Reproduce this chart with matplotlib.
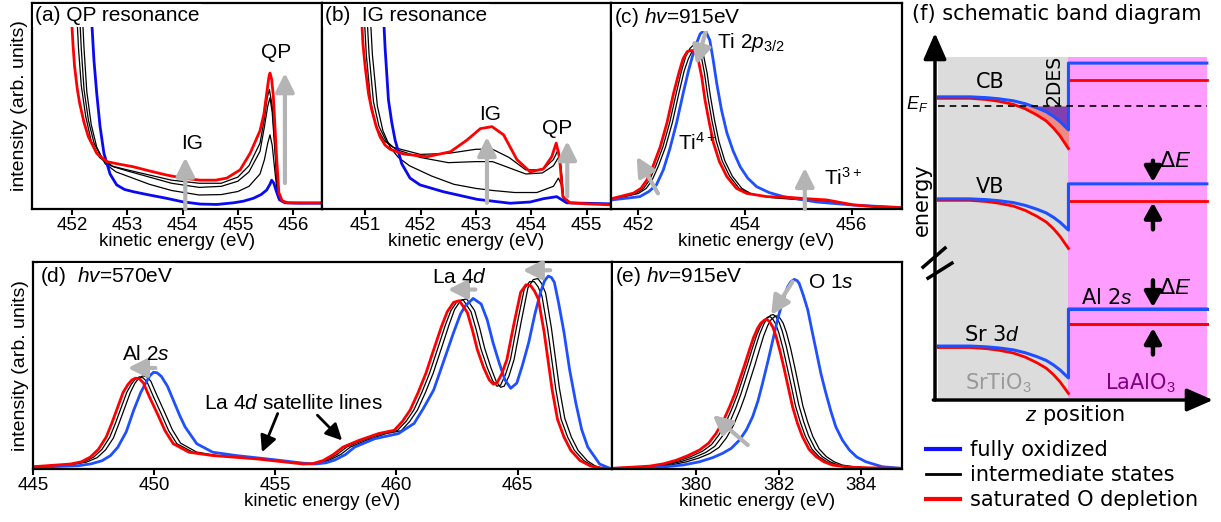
import matplotlib
matplotlib.use("Agg")
import matplotlib.pyplot as plt
from matplotlib.lines import Line2D
from matplotlib.patches import Rectangle

plt.rcParams['font.family'] = ['Liberation Sans', 'DejaVu Sans']
plt.rcParams['mathtext.fontset'] = 'custom'
plt.rcParams['mathtext.rm'] = 'Liberation Sans'
plt.rcParams['mathtext.it'] = 'Liberation Sans:italic'
plt.rcParams['mathtext.bf'] = 'Liberation Sans:bold'

BLUE_AB = '#0a0af0'
BLUE = '#1e50ff'
RED = '#ff0000'
GRAY = '#b4b4b4'

# ---------------- (a) QP resonance ----------------
a_blue_x = [452.30, 452.34, 452.40, 452.45, 452.51, 452.58, 452.69, 452.81, 452.95, 453.11, 453.40, 453.71,
            454.00, 454.32, 454.62, 454.92, 455.10, 455.28, 455.42, 455.52, 455.58, 455.61, 455.65, 455.69,
            455.75, 455.85, 456.10, 456.52]
a_blue_y = [1.05, 1.00, 0.72, 0.56, 0.40, 0.27, 0.17, 0.117, 0.095, 0.084, 0.068, 0.052,
            0.035, 0.024, 0.022, 0.030, 0.038, 0.052, 0.070, 0.092, 0.120, 0.140, 0.125, 0.090,
            0.045, 0.030, 0.028, 0.028]
a_red_x = [451.96, 451.98, 452.02, 452.05, 452.10, 452.14, 452.22, 452.30, 452.45, 452.63, 452.81, 453.11,
           453.40, 453.71, 454.00, 454.32, 454.60, 454.80, 455.04, 455.22, 455.40, 455.47, 455.52, 455.56,
           455.58, 455.61, 455.64, 455.67, 455.70, 455.74, 455.80, 455.90, 456.52]
a_red_y = [1.05, 1.00, 0.80, 0.69, 0.58, 0.515, 0.42, 0.35, 0.27, 0.23, 0.22, 0.205,
           0.185, 0.165, 0.15, 0.14, 0.14, 0.15, 0.19, 0.27, 0.38, 0.46, 0.56, 0.64,
           0.66, 0.63, 0.55, 0.40, 0.25, 0.08, 0.04, 0.03, 0.03]
a_k1_x = [452.06, 452.08, 452.12, 452.17, 452.25, 452.35, 452.50, 452.70, 453.0, 453.4, 453.8, 454.3, 454.7,
          455.0, 455.2, 455.4, 455.48, 455.53, 455.57, 455.62, 455.67, 455.72, 455.8, 455.9]
a_k1_y = [1.05, 1.00, 0.78, 0.60, 0.45, 0.33, 0.25, 0.21, 0.19, 0.165, 0.14, 0.125, 0.125,
          0.155, 0.21, 0.32, 0.44, 0.54, 0.58, 0.50, 0.30, 0.08, 0.04, 0.03]
a_k2_x = [452.11, 452.13, 452.17, 452.22, 452.30, 452.40, 452.55, 452.75, 453.0, 453.4, 453.8, 454.3, 454.7,
          455.0, 455.2, 455.4, 455.48, 455.54, 455.58, 455.62, 455.67, 455.72, 455.8, 455.9]
a_k2_y = [1.05, 1.00, 0.78, 0.58, 0.43, 0.32, 0.245, 0.205, 0.185, 0.155, 0.125, 0.105, 0.11,
          0.135, 0.18, 0.28, 0.40, 0.50, 0.54, 0.47, 0.28, 0.07, 0.035, 0.03]
a_k3_x = [452.16, 452.18, 452.22, 452.27, 452.35, 452.45, 452.60, 452.80, 453.0, 453.4, 453.8, 454.3, 454.7,
          455.0, 455.2, 455.4, 455.48, 455.54, 455.58, 455.62, 455.67, 455.72, 455.8, 455.9]
a_k3_y = [1.05, 1.00, 0.78, 0.57, 0.41, 0.30, 0.22, 0.18, 0.16, 0.12, 0.09, 0.068, 0.07,
          0.085, 0.11, 0.17, 0.24, 0.32, 0.36, 0.31, 0.18, 0.06, 0.035, 0.03]
a_ticks = [452, 453, 454, 455, 456]

# ---------------- (b) IG resonance ----------------
b_red_x = [450.90, 450.92, 450.96, 451.00, 451.06, 451.12, 451.20, 451.27, 451.36, 451.45, 451.69, 452.12,
           452.54, 452.84, 453.08, 453.29, 453.50, 453.74, 453.98, 454.22, 454.37, 454.45, 454.51, 454.57,
           454.70, 455.00, 455.44]
b_red_y = [1.05, 1.00, 0.80, 0.69, 0.56, 0.48, 0.40, 0.35, 0.31, 0.29, 0.267, 0.254,
           0.278, 0.335, 0.39, 0.40, 0.36, 0.24, 0.18, 0.195, 0.254, 0.32, 0.25, 0.06,
           0.03, 0.025, 0.02]
b_blue_x = [451.30, 451.32, 451.36, 451.42, 451.48, 451.54, 451.66, 451.81, 451.99, 452.41, 453.02, 453.62,
            453.98, 454.22, 454.46, 454.55, 454.64, 455.44]
b_blue_y = [1.05, 1.00, 0.78, 0.53, 0.42, 0.335, 0.22, 0.15, 0.117, 0.084, 0.047, 0.028,
            0.034, 0.05, 0.06, 0.045, 0.03, 0.025]
b_k1_x = [450.95, 450.97, 451.02, 451.10, 451.20, 451.35, 451.50, 452.0, 452.5, 453.0, 453.3, 453.6, 453.9,
          454.2, 454.4, 454.49, 454.54, 454.58, 454.7]
b_k1_y = [1.05, 1.00, 0.75, 0.52, 0.40, 0.33, 0.30, 0.265, 0.27, 0.29, 0.29, 0.25, 0.19,
          0.19, 0.24, 0.29, 0.20, 0.06, 0.03]
b_k2_x = [451.00, 451.02, 451.07, 451.15, 451.25, 451.38, 451.55, 452.0, 452.5, 453.0, 453.3, 453.6, 453.9,
          454.2, 454.4, 454.49, 454.54, 454.58, 454.7]
b_k2_y = [1.05, 1.00, 0.75, 0.52, 0.40, 0.33, 0.29, 0.25, 0.225, 0.23, 0.23, 0.20, 0.17,
          0.175, 0.21, 0.25, 0.18, 0.06, 0.03]
b_k3_x = [451.06, 451.08, 451.13, 451.22, 451.32, 451.45, 451.60, 451.80, 452.2, 452.6, 453.0, 453.3, 453.7,
          454.1, 454.4, 454.49, 454.54, 454.58, 454.7]
b_k3_y = [1.05, 1.00, 0.75, 0.50, 0.38, 0.30, 0.25, 0.21, 0.16, 0.12, 0.10, 0.09, 0.08,
          0.08, 0.11, 0.15, 0.12, 0.05, 0.03]
b_ticks = [451, 452, 453, 454, 455]

# ---------------- (c) Ti 2p ----------------
c_blue_x = [451.5, 452.03, 452.20, 452.34, 452.47, 452.59, 452.72, 452.84, 452.94, 453.03, 453.10, 453.16,
            453.25, 453.34, 453.40, 453.47, 453.56, 453.66, 453.78, 453.91, 454.05, 454.22, 454.45, 454.72,
            455.34, 456.03, 457.0]
c_blue_y = [0.044, 0.06, 0.085, 0.117, 0.19, 0.29, 0.42, 0.56, 0.67, 0.755, 0.81, 0.85,
            0.87, 0.82, 0.73, 0.61, 0.48, 0.37, 0.28, 0.205, 0.15, 0.108, 0.08, 0.06,
            0.034, 0.019, 0.006]
c_red_x = [451.5, 451.91, 452.05, 452.16, 452.28, 452.41, 452.54, 452.66, 452.76, 452.84, 452.92, 453.0,
           453.06, 453.12, 453.19, 453.25, 453.33, 453.41, 453.52, 453.66, 453.84, 454.03, 454.41, 454.78,
           455.16, 455.53, 456.03, 456.5, 457.0]
c_red_y = [0.05, 0.077, 0.10, 0.14, 0.21, 0.30, 0.42, 0.56, 0.66, 0.73, 0.765, 0.77,
           0.76, 0.73, 0.64, 0.53, 0.42, 0.32, 0.23, 0.157, 0.10, 0.076, 0.06, 0.057,
           0.05, 0.044, 0.02, 0.01, 0.006]
c_k1_x = [451.5, 451.95, 452.10, 452.21, 452.33, 452.46, 452.59, 452.71, 452.81, 452.89, 452.97, 453.05,
          453.11, 453.17, 453.24, 453.30, 453.38, 453.46, 453.57, 453.71, 453.89, 454.08, 454.45, 454.8,
          455.2, 455.55, 456.03, 457.0]
c_k1_y = [0.047, 0.075, 0.10, 0.14, 0.21, 0.30, 0.42, 0.56, 0.67, 0.74, 0.78, 0.80,
          0.79, 0.755, 0.66, 0.55, 0.43, 0.33, 0.235, 0.16, 0.10, 0.075, 0.058, 0.052,
          0.045, 0.04, 0.02, 0.006]
c_k2_x = [451.5, 452.0, 452.15, 452.26, 452.38, 452.51, 452.64, 452.76, 452.86, 452.94, 453.02, 453.10,
          453.16, 453.22, 453.29, 453.35, 453.43, 453.51, 453.62, 453.76, 453.94, 454.13, 454.5, 454.85,
          455.2, 455.55, 456.03, 457.0]
c_k2_y = [0.046, 0.075, 0.10, 0.14, 0.21, 0.30, 0.42, 0.56, 0.67, 0.73, 0.77, 0.79,
          0.78, 0.75, 0.66, 0.55, 0.43, 0.33, 0.235, 0.16, 0.10, 0.072, 0.055, 0.048,
          0.042, 0.038, 0.02, 0.006]
c_ticks = [452, 454, 456]

# ---------------- (d) Al 2s / La 4d ----------------
d_blue_x = [445.0, 446.87, 447.4, 447.85, 448.2, 448.5, 448.85, 449.16, 449.45, 449.65, 449.82, 449.97,
            450.12, 450.3, 450.55, 450.79, 451.05, 451.28, 451.76, 452.42, 453.39, 455.02, 456.17, 456.65,
            457.1, 457.47, 457.9, 458.28, 459.1, 460.08, 460.73, 461.1, 461.54, 461.95, 462.36, 462.65,
            462.85, 463.17, 463.5, 463.75, 463.99, 464.25, 464.48, 464.72, 464.97, 465.2, 465.46, 465.72,
            465.95, 466.12, 466.27, 466.4, 466.52, 466.7, 466.92, 467.15, 467.41, 467.65, 467.9, 468.39,
            468.88]
d_blue_y = [0.008, 0.016, 0.025, 0.04, 0.065, 0.105, 0.18, 0.285, 0.37, 0.415, 0.45, 0.467,
            0.465, 0.447, 0.40, 0.333, 0.26, 0.203, 0.122, 0.081, 0.065, 0.044, 0.028, 0.024,
            0.03, 0.044, 0.07, 0.106, 0.146, 0.171, 0.22, 0.29, 0.382, 0.52, 0.659, 0.75,
            0.789, 0.824, 0.797, 0.72, 0.61, 0.51, 0.431, 0.39, 0.415, 0.50, 0.61, 0.75,
            0.854, 0.91, 0.932, 0.925, 0.902, 0.80, 0.659, 0.48, 0.317, 0.19, 0.106, 0.024,
            0.0]
d_red_x = [445.0, 446.55, 447.0, 447.36, 447.7, 448.02, 448.25, 448.5, 448.72, 448.91, 449.08, 449.24,
           449.4, 449.56, 449.8, 450.13, 450.45, 450.79, 451.44, 452.42, 454.21, 456.17, 456.55, 456.98,
           457.4, 457.8, 458.45, 459.26, 459.91, 460.25, 460.57, 460.9, 461.22, 461.55, 461.87, 462.1,
           462.36, 462.6, 462.93, 463.14, 463.34, 463.6, 463.83, 464.0, 464.15, 464.35, 464.56, 464.85,
           465.13, 465.35, 465.54, 465.7, 465.86, 466.1, 466.43, 466.65, 466.92, 467.2, 467.58, 468.0,
           468.39, 468.88]
d_red_y = [0.011, 0.024, 0.035, 0.057, 0.095, 0.154, 0.22, 0.30, 0.37, 0.407, 0.43, 0.439,
           0.435, 0.415, 0.35, 0.268, 0.185, 0.122, 0.081, 0.065, 0.049, 0.024, 0.026, 0.041,
           0.07, 0.106, 0.138, 0.171, 0.187, 0.23, 0.285, 0.37, 0.463, 0.58, 0.691, 0.76,
           0.805, 0.813, 0.756, 0.67, 0.577, 0.49, 0.431, 0.41, 0.415, 0.46, 0.528, 0.70,
           0.854, 0.89, 0.886, 0.86, 0.821, 0.66, 0.382, 0.24, 0.154, 0.09, 0.041, 0.015,
           0.005, 0.0]
d_k1_x = [445.0, 446.6, 447.1, 447.5, 447.85, 448.17, 448.4, 448.65, 448.87, 449.06, 449.23, 449.39,
          449.55, 449.71, 449.95, 450.28, 450.6, 450.94, 451.6, 452.5, 454.3, 456.2, 456.65, 457.1,
          457.55, 457.95, 458.6, 459.4, 460.05, 460.4, 460.72, 461.05, 461.37, 461.7, 462.02, 462.25,
          462.51, 462.75, 463.08, 463.29, 463.49, 463.75, 463.98, 464.15, 464.3, 464.5, 464.71, 465.0,
          465.28, 465.5, 465.69, 465.85, 466.01, 466.25, 466.58, 466.8, 467.07, 467.35, 467.73, 468.1,
          468.45, 468.88]
d_k1_y = [0.011, 0.024, 0.035, 0.057, 0.095, 0.154, 0.22, 0.30, 0.37, 0.41, 0.435, 0.445,
          0.44, 0.42, 0.355, 0.27, 0.185, 0.122, 0.081, 0.065, 0.049, 0.024, 0.026, 0.041,
          0.07, 0.106, 0.138, 0.171, 0.187, 0.23, 0.285, 0.37, 0.463, 0.58, 0.695, 0.765,
          0.81, 0.818, 0.76, 0.675, 0.58, 0.49, 0.425, 0.40, 0.405, 0.455, 0.53, 0.71,
          0.87, 0.905, 0.905, 0.88, 0.835, 0.67, 0.385, 0.24, 0.154, 0.09, 0.041, 0.015,
          0.005, 0.0]
d_k2_x = [445.0, 446.65, 447.2, 447.65, 448.0, 448.32, 448.55, 448.8, 449.02, 449.21, 449.38, 449.54,
          449.7, 449.86, 450.1, 450.43, 450.75, 451.09, 451.75, 452.6, 454.4, 456.2, 456.7, 457.2,
          457.7, 458.1, 458.75, 459.55, 460.2, 460.55, 460.87, 461.2, 461.52, 461.85, 462.17, 462.4,
          462.66, 462.9, 463.23, 463.44, 463.64, 463.9, 464.13, 464.3, 464.45, 464.65, 464.86, 465.15,
          465.43, 465.65, 465.84, 466.0, 466.16, 466.4, 466.73, 466.95, 467.22, 467.5, 467.88, 468.2,
          468.5, 468.88]
d_k2_y = [0.01, 0.022, 0.033, 0.055, 0.093, 0.15, 0.22, 0.30, 0.37, 0.415, 0.44, 0.45,
          0.445, 0.425, 0.36, 0.275, 0.19, 0.125, 0.082, 0.065, 0.048, 0.024, 0.026, 0.041,
          0.07, 0.106, 0.138, 0.17, 0.185, 0.23, 0.285, 0.37, 0.463, 0.58, 0.695, 0.77,
          0.815, 0.822, 0.765, 0.68, 0.585, 0.49, 0.42, 0.395, 0.40, 0.45, 0.53, 0.71,
          0.875, 0.915, 0.92, 0.895, 0.85, 0.68, 0.39, 0.245, 0.155, 0.09, 0.04, 0.015,
          0.005, 0.0]
d_ticks = [445, 450, 455, 460, 465]

# ---------------- (e) O 1s ----------------
e_blue_x = [377.95, 379.27, 379.7, 380.08, 380.4, 380.64, 380.85, 381.05, 381.22, 381.37, 381.5, 381.61,
            381.74, 381.86, 381.96, 382.06, 382.14, 382.22, 382.30, 382.38, 382.45, 382.5, 382.6, 382.71,
            382.81, 382.91, 383.03, 383.15, 383.27, 383.39, 383.55, 383.72, 383.9, 384.12, 384.52, 385.0]
e_blue_y = [0.003, 0.011, 0.02, 0.035, 0.055, 0.076, 0.10, 0.14, 0.19, 0.253, 0.33, 0.414,
            0.52, 0.623, 0.71, 0.784, 0.835, 0.88, 0.905, 0.916, 0.91, 0.897, 0.84, 0.768,
            0.67, 0.575, 0.46, 0.366, 0.28, 0.204, 0.14, 0.092, 0.058, 0.035, 0.011, 0.003]
e_red_x = [377.95, 378.87, 379.2, 379.52, 379.8, 380.08, 380.3, 380.48, 380.65, 380.81, 380.93, 381.05,
           381.17, 381.29, 381.39, 381.49, 381.57, 381.66, 381.72, 381.78, 381.86, 381.94, 382.04, 382.14,
           382.24, 382.34, 382.46, 382.58, 382.74, 382.91, 383.1, 383.31, 383.7, 384.12, 385.0]
e_red_y = [0.003, 0.014, 0.025, 0.043, 0.065, 0.092, 0.125, 0.172, 0.23, 0.301, 0.36, 0.43,
           0.50, 0.575, 0.635, 0.68, 0.705, 0.72, 0.722, 0.712, 0.685, 0.64, 0.565, 0.48,
           0.39, 0.30, 0.22, 0.156, 0.095, 0.06, 0.035, 0.019, 0.009, 0.006, 0.003]
e_k1_x = [377.95, 378.9, 379.25, 379.58, 379.87, 380.15, 380.37, 380.55, 380.72, 380.88, 381.0, 381.12,
          381.24, 381.36, 381.46, 381.56, 381.64, 381.73, 381.79, 381.85, 381.93, 382.01, 382.11, 382.21,
          382.31, 382.41, 382.53, 382.65, 382.81, 382.98, 383.17, 383.38, 383.75, 384.15, 385.0]
e_k1_y = [0.003, 0.013, 0.023, 0.04, 0.06, 0.086, 0.118, 0.165, 0.225, 0.298, 0.36, 0.432,
          0.505, 0.582, 0.643, 0.69, 0.717, 0.733, 0.736, 0.727, 0.70, 0.655, 0.58, 0.49,
          0.40, 0.305, 0.225, 0.158, 0.096, 0.06, 0.035, 0.019, 0.009, 0.006, 0.003]
e_k2_x = [377.95, 378.95, 379.3, 379.65, 379.95, 380.23, 380.45, 380.63, 380.8, 380.96, 381.08, 381.2,
          381.32, 381.44, 381.54, 381.64, 381.72, 381.81, 381.87, 381.93, 382.01, 382.09, 382.19, 382.29,
          382.39, 382.49, 382.61, 382.73, 382.89, 383.06, 383.25, 383.45, 383.8, 384.2, 385.0]
e_k2_y = [0.003, 0.012, 0.021, 0.037, 0.056, 0.08, 0.11, 0.158, 0.22, 0.295, 0.36, 0.434,
          0.51, 0.59, 0.652, 0.70, 0.728, 0.743, 0.746, 0.737, 0.71, 0.665, 0.59, 0.50,
          0.405, 0.31, 0.228, 0.16, 0.097, 0.06, 0.035, 0.019, 0.009, 0.006, 0.003]
e_k3_x = [377.95, 379.0, 379.4, 379.75, 380.05, 380.33, 380.55, 380.73, 380.9, 381.06, 381.18, 381.3,
          381.42, 381.54, 381.64, 381.74, 381.82, 381.91, 381.97, 382.03, 382.11, 382.19, 382.29, 382.39,
          382.49, 382.59, 382.71, 382.83, 382.99, 383.16, 383.35, 383.55, 383.9, 384.25, 385.0]
e_k3_y = [0.003, 0.011, 0.02, 0.034, 0.052, 0.075, 0.104, 0.15, 0.21, 0.285, 0.35, 0.425,
          0.50, 0.58, 0.645, 0.695, 0.722, 0.737, 0.74, 0.73, 0.705, 0.66, 0.585, 0.495,
          0.40, 0.305, 0.225, 0.158, 0.096, 0.06, 0.035, 0.019, 0.009, 0.006, 0.003]
e_ticks = [380, 382, 384]

# ---------------- (f) schematic band diagram ----------------
z_iface = 0.48
z_sto0, z_lao1 = 0.011, 0.978
bend_z = [0.012, 0.126, 0.186, 0.23, 0.282, 0.325, 0.366, 0.40, 0.426, 0.45, 0.474, 0.48]
bend_shape = [0, 0, 0.025, 0.06, 0.12, 0.21, 0.33, 0.45, 0.59, 0.75, 0.95, 1.0]
band_names = ['CB', 'VB', 'Sr 3d']
sto_flat = [0.826, 0.548, 0.147]
drop_blue = [0.090, 0.085, 0.087]
drop_red = [0.137, 0.131, 0.125]
lao_blue = [0.918, 0.589, 0.248]
lao_red = [0.872, 0.542, 0.207]
e_fermi = 0.801

W, H = 1221, 522
fig = plt.figure(figsize=(W / 100, H / 100), dpi=100)


def box(x0, y0, x1, y1):
    return fig.add_axes([x0 / W, 1 - y1 / H, (x1 - x0) / W, (y1 - y0) / H])


def style(ax, xlim, ticks, title, ylabel=False):
    ax.set_xlim(*xlim)
    ax.set_ylim(0, 1)
    ax.set_xticks(ticks)
    ax.set_yticks([])
    ax.tick_params(axis='x', direction='out', length=4, width=1.5, labelsize=13.5, pad=2)
    for s in ax.spines.values():
        s.set_linewidth(1.6)
    ax.set_xlabel('kinetic energy (eV)', fontsize=13.5, labelpad=-1)
    if ylabel:
        ax.set_ylabel('intensity (arb. units)', fontsize=14, labelpad=3)
    ax.text(0.012, 0.985, title, transform=ax.transAxes, fontsize=15, va='top', ha='left', zorder=10,
            bbox=dict(facecolor='white', edgecolor='none', pad=1.5))


def garrow(ax, tail, head, color=GRAY, lw=3, ms=16):
    ax.annotate('', xy=head, xytext=tail,
                arrowprops=dict(arrowstyle='-|>,head_length=0.7,head_width=0.35', color=color,
                                lw=lw, mutation_scale=ms, shrinkA=0, shrinkB=0))


def spectra(ax, blacks, blue, red, bcol):
    for bx, by in blacks:
        ax.plot(bx, by, color='k', lw=0.9)
    ax.plot(blue[0], blue[1], color=bcol, lw=2.0)
    ax.plot(red[0], red[1], color=RED, lw=2.0)


# (a)
ax = box(32, 3, 322, 209)
spectra(ax, [(a_k1_x, a_k1_y), (a_k2_x, a_k2_y), (a_k3_x, a_k3_y)],
        (a_blue_x, a_blue_y), (a_red_x, a_red_y), BLUE_AB)
style(ax, (451.28, 456.52), a_ticks, '(a) QP resonance', ylabel=True)
garrow(ax, (454.05, 0.0), (454.05, 0.25))
garrow(ax, (455.85, 0.126), (455.85, 0.66))
ax.text(454.17, 0.32, 'IG', fontsize=15, ha='center', va='center')
ax.text(455.70, 0.76, 'QP', fontsize=15, ha='center', va='center')

# (b)
ax = box(322, 3, 611, 209)
spectra(ax, [(b_k1_x, b_k1_y), (b_k2_x, b_k2_y), (b_k3_x, b_k3_y)],
        (b_blue_x, b_blue_y), (b_red_x, b_red_y), BLUE_AB)
style(ax, (450.22, 455.44), b_ticks, '(b)  IG resonance')
garrow(ax, (453.20, 0.03), (453.20, 0.35))
garrow(ax, (454.65, 0.06), (454.65, 0.33))
ax.text(453.26, 0.46, 'IG', fontsize=15, ha='center', va='center')
ax.text(454.47, 0.39, 'QP', fontsize=15, ha='center', va='center')

# (c)
ax = box(611, 3, 902, 209)
spectra(ax, [(c_k1_x, c_k1_y), (c_k2_x, c_k2_y)],
        (c_blue_x, c_blue_y), (c_red_x, c_red_y), BLUE)
style(ax, (451.49, 456.94), c_ticks, r'(c) $hv$=915eV')
garrow(ax, (452.37, 0.076), (451.97, 0.254))
garrow(ax, (453.28, 0.877), (453.09, 0.70))
garrow(ax, (455.12, 0.0), (455.12, 0.20))
ax.text(453.47, 0.81, r'Ti 2$p_{3/2}$', fontsize=15, ha='left', va='center')
ax.text(452.75, 0.32, r'Ti$^{4+}$', fontsize=15, ha='left', va='center')
ax.text(455.47, 0.15, r'Ti$^{3+}$', fontsize=15, ha='left', va='center')

# (d)
ax = box(33, 262, 612, 469)
spectra(ax, [(d_k1_x, d_k1_y), (d_k2_x, d_k2_y)],
        (d_blue_x, d_blue_y), (d_red_x, d_red_y), BLUE)
style(ax, (445.0, 468.9), d_ticks, r'(d)  $hv$=570eV', ylabel=True)
garrow(ax, (450.05, 0.488), (448.91, 0.488))
garrow(ax, (463.26, 0.867), (462.12, 0.867))
garrow(ax, (466.35, 0.96), (465.21, 0.96))
ax.text(449.65, 0.553, r'Al 2$s$', fontsize=15, ha='center', va='center')
ax.text(462.6, 0.927, r'La 4$d$', fontsize=15, ha='center', va='center')
ax.text(455.76, 0.317, r'La 4$d$ satellite lines', fontsize=15, ha='center', va='center')
garrow(ax, (455.1, 0.268), (454.45, 0.081), color='k', lw=2, ms=14)
garrow(ax, (456.74, 0.26), (457.76, 0.138), color='k', lw=2, ms=14)

# (e)
ax = box(612, 262, 902, 469)
spectra(ax, [(e_k1_x, e_k1_y), (e_k2_x, e_k2_y), (e_k3_x, e_k3_y)],
        (e_blue_x, e_blue_y), (e_red_x, e_red_y), BLUE)
style(ax, (377.95, 385.0), e_ticks, r'(e) $hv$=915eV')
garrow(ax, (382.34, 0.905), (381.82, 0.744))
garrow(ax, (381.25, 0.116), (380.40, 0.261))
ax.text(382.71, 0.9, r'O 1$s$', fontsize=15, ha='left', va='center')

# (f)
DV = 'DejaVu Sans'
axf = box(935, 33, 1213, 400)
axf.set_xlim(0, 1)
axf.set_ylim(0, 1)
axf.axis('off')
axf.add_patch(Rectangle((z_sto0, 0.005), z_iface - z_sto0, 0.93, color='#dcdcdc', lw=0, zorder=0))
axf.add_patch(Rectangle((z_iface, 0.005), z_lao1 - z_iface, 0.93, color='#ff9cff', lw=0, zorder=0))

for i, name in enumerate(band_names):
    blue_e = [sto_flat[i] - drop_blue[i] * s for s in bend_shape]
    red_e = [sto_flat[i] - 0.004 - drop_red[i] * s for s in bend_shape]
    if i == 0:
        axf.fill_between(bend_z, red_e, e_fermi, where=[v < e_fermi for v in red_e],
                         interpolate=True, color='#f08a84', lw=0, zorder=1)
        axf.fill_between(bend_z, blue_e, e_fermi, where=[v < e_fermi for v in blue_e],
                         interpolate=True, color='#8040b0', lw=0, zorder=1)
    axf.plot(bend_z, red_e, color=RED, lw=2, zorder=2)
    axf.plot([z_iface + 0.004, z_lao1], [lao_red[i], lao_red[i]], color=RED, lw=2, zorder=2)
    axf.plot(bend_z + [z_iface, z_lao1], blue_e + [lao_blue[i], lao_blue[i]], color=BLUE, lw=2.2, zorder=3)
axf.plot([z_sto0, z_lao1], [e_fermi, e_fermi], color='k', lw=1.2, ls=(0, (4, 3)), zorder=4)
# Al 2s of LaAlO3 (only in the LAO layer)
axf.plot([z_iface + 0.004, z_lao1], [0.207, 0.207], color=RED, lw=2, zorder=2)
axf.plot([z_iface + 0.004, z_lao1], [0.248, 0.248], color=BLUE, lw=2.2, zorder=3)

axf.annotate('', xy=(0, 1), xytext=(0, 0), annotation_clip=False,
             arrowprops=dict(arrowstyle='-|>,head_length=0.8,head_width=0.35', color='k', lw=2.5,
                             mutation_scale=20, shrinkA=0, shrinkB=0))
axf.annotate('', xy=(1, 0), xytext=(-0.006, 0), annotation_clip=False,
             arrowprops=dict(arrowstyle='-|>,head_length=0.8,head_width=0.35', color='k', lw=2.5,
                             mutation_scale=20, shrinkA=0, shrinkB=0))
axf.plot([-0.043, 0.036], [0.362, 0.414], color='k', lw=2.5, clip_on=False)
axf.plot([-0.025, 0.061], [0.332, 0.373], color='k', lw=2.5, clip_on=False)

for tail, head in [((0.784, 0.652), (0.784, 0.594)), ((0.784, 0.465), (0.784, 0.538)),
                   ((0.784, 0.326), (0.784, 0.253)), ((0.784, 0.124), (0.784, 0.196))]:
    axf.annotate('', xy=head, xytext=tail,
                 arrowprops=dict(arrowstyle='-|>,head_length=0.5,head_width=0.28', color='k', lw=3.2,
                                 mutation_scale=18, shrinkA=0, shrinkB=0))

axf.text(0.198, 0.866, 'CB', fontsize=15, family=DV, ha='center', va='center')
axf.text(0.198, 0.580, 'VB', fontsize=15, family=DV, ha='center', va='center')
axf.text(0.205, 0.177, r'Sr 3$d$', fontsize=15, family=DV, ha='center', va='center')
axf.text(0.619, 0.278, r'Al 2$s$', fontsize=15, family=DV, ha='center', va='center')
axf.text(0.865, 0.650, r'Δ$E$', fontsize=16, family=DV, ha='center', va='center')
axf.text(0.865, 0.305, r'Δ$E$', fontsize=16, family=DV, ha='center', va='center')
axf.text(0.43, 0.872, '2DES', fontsize=13.5, family=DV, ha='center', va='center', rotation=90)
axf.text(-0.065, 0.807, r'$E_F$', fontsize=13, ha='center', va='center')
axf.text(-0.047, 0.545, 'energy', fontsize=15, family=DV, ha='center', va='center', rotation=90)
axf.text(0.227, 0.046, r'SrTiO$_3$', fontsize=15, family=DV, color='#999999', ha='center', va='center')
axf.text(0.737, 0.046, r'LaAlO$_3$', fontsize=15, family=DV, color='#800080', ha='center', va='center')
axf.text(0.504, -0.041, r'$z$ position', fontsize=15, family=DV, ha='center', va='center')

fig.text(912 / W, 1 - 14 / H, '(f) schematic band diagram', fontsize=15, family=DV, ha='left', va='center')

legend_labels = ['fully oxidized', 'intermediate states', 'saturated O depletion']
handles = [Line2D([], [], color='#1010ff', lw=3), Line2D([], [], color='k', lw=2),
           Line2D([], [], color=RED, lw=3)]
fig.legend(handles, legend_labels, loc='upper left', bbox_to_anchor=(926 / W, 1 - 440 / H),
           frameon=False, prop={'family': DV, 'size': 15}, handlelength=1.65, handletextpad=0.45,
           labelspacing=0.25, borderpad=0, borderaxespad=0)

fig.savefig('out.png', dpi=100)
